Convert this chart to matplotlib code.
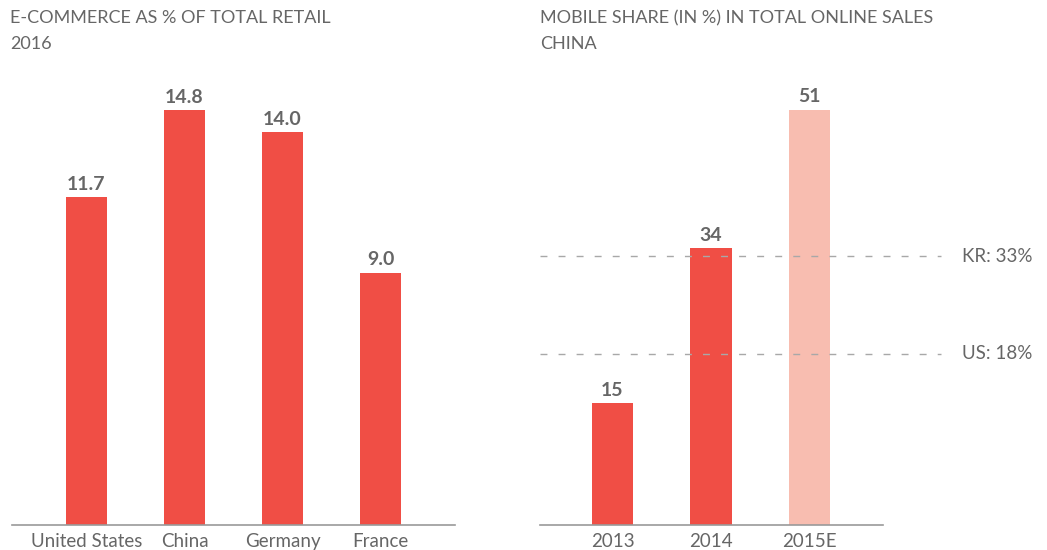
import matplotlib.pyplot as plt

# E-commerce share of total retail, 2016
countries = ["United States", "China", "Germany", "France"]
ecom_share = [11.7, 14.8, 14.0, 9.0]

# Mobile share of online sales in China
years = ["2013", "2014", "2015E"]
mobile_share = [15, 34, 51]

# benchmark lines (level as drawn on the chart, label text)
ref_levels = [33, 21]
ref_labels = ["KR: 33%", "US: 18%"]

RED = "#F04E45"
PINK = "#F8BDB0"
TEXT = "#666666"
AXIS = "#9a9a9a"

plt.rcParams["font.family"] = ["Lato", "DejaVu Sans"]

W, H = 1047, 550
fig = plt.figure(figsize=(W / 100, H / 100), dpi=100)


def px_axes(x0, x1, y_top, y_base):
    return fig.add_axes([x0 / W, (H - y_base) / H, (x1 - x0) / W, (y_base - y_top) / H])


def style(ax):
    for s in ["top", "right", "left"]:
        ax.spines[s].set_visible(False)
    ax.spines["bottom"].set_color(AXIS)
    ax.spines["bottom"].set_linewidth(1.2)
    ax.set_yticks([])
    ax.tick_params(axis="x", length=0, pad=6, labelsize=13.5, labelcolor=TEXT)


# left chart
ax1 = px_axes(12, 455, 90, 525)
x1 = range(len(countries))
ax1.bar(x1, ecom_share, width=0.42, color=RED)
for i, v in zip(x1, ecom_share):
    ax1.annotate(f"{v:.1f}", (i, v), xytext=(0, 3), textcoords="offset points",
                 ha="center", va="bottom", fontsize=14, fontweight="bold", color=TEXT)
ax1.set_xlim(-0.76, 3.76)
ax1.set_ylim(0, 15.51)
ax1.set_xticks(list(x1))
ax1.set_xticklabels(countries)
style(ax1)

# right chart
ax2 = px_axes(540, 883, 90, 525)
x2 = range(len(years))
ax2.bar(x2, mobile_share, width=0.42, color=[RED, RED, PINK])
for i, v in zip(x2, mobile_share):
    ax2.annotate(f"{v}", (i, v), xytext=(0, 3), textcoords="offset points",
                 ha="center", va="bottom", fontsize=14, fontweight="bold", color=TEXT)
for lvl, lab in zip(ref_levels, ref_labels):
    ax2.plot([-0.736, 3.33], [lvl, lvl], ls=(0, (5, 8)), color="#a8a8a8", lw=1, clip_on=False)
    ax2.text(3.55, lvl, lab, ha="left", va="center", fontsize=13.5, color=TEXT)
ax2.set_xlim(-0.736, 2.746)
ax2.set_ylim(0, 53.4)
ax2.set_xticks(list(x2))
ax2.set_xticklabels(years)
style(ax2)

# titles
for x, lines in [(10, ["E-COMMERCE AS % OF TOTAL RETAIL", "2016"]),
                 (540, ["MOBILE SHARE (IN %) IN TOTAL ONLINE SALES", "CHINA"])]:
    for y, line in zip([18, 44], lines):
        fig.text(x / W, 1 - y / H, line, ha="left", va="center", fontsize=13, color=TEXT)

fig.savefig("out.png", dpi=100)
